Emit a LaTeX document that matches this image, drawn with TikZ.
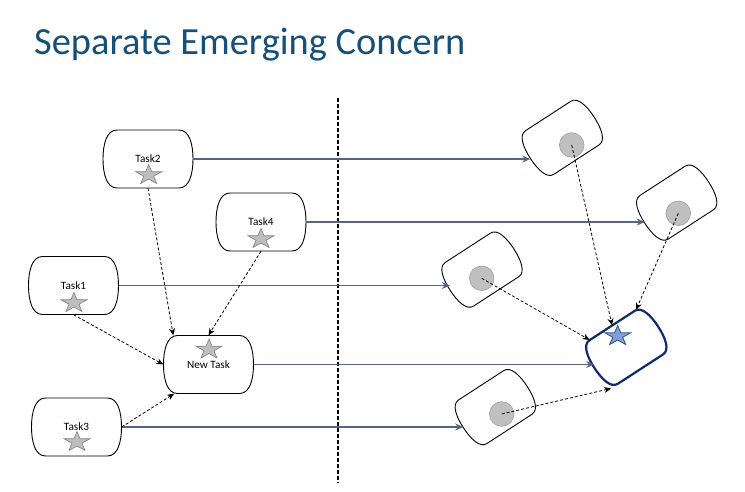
\documentclass[tikz,border=0pt]{standalone}
\usepackage{fontspec}
\newfontfamily\carl{Carlito}
\usetikzlibrary{shapes.geometric,arrows.meta,calc}
\definecolor{titleblue}{RGB}{22,80,122}
\definecolor{flowcol}{RGB}{84,100,130}
\definecolor{navy}{RGB}{14,44,110}
\definecolor{starblue}{RGB}{125,160,215}
\definecolor{starblueline}{RGB}{50,80,140}
\definecolor{dotgray}{RGB}{192,192,192}
\definecolor{dotline}{RGB}{160,160,160}
\definecolor{stargray}{RGB}{190,190,190}
\definecolor{stargrayline}{RGB}{128,128,128}
\tikzset{
  pics/term/.style n args={3}{code={
    \pgfmathsetmacro\tmW{#1/2}\pgfmathsetmacro\tmH{#2/2}%
    \pgfmathsetmacro\tmA{#1/2-#3}\pgfmathsetmacro\tmC{#1/2-0.25*#3}%
    \draw[pic actions] (-\tmA,-\tmH) -- (\tmA,-\tmH)
      .. controls (\tmC,-\tmH) and (\tmW,-0.5*\tmH) .. (\tmW,0)
      .. controls (\tmW,0.5*\tmH) and (\tmC,\tmH) .. (\tmA,\tmH)
      -- (-\tmA,\tmH)
      .. controls (-\tmC,\tmH) and (-\tmW,0.5*\tmH) .. (-\tmW,0)
      .. controls (-\tmW,-0.5*\tmH) and (-\tmC,-\tmH) .. cycle;
  }},
  taskbox/.style={minimum width=90pt, minimum height=58pt, inner sep=0pt, font=\carl\fontsize{11.2}{12}\selectfont},
  rnode/.style={minimum width=76pt, minimum height=52pt, inner sep=0pt, rotate=33},
  outl/.style={draw=black, line width=0.9pt},
  routl/.style={draw=black, line width=0.9pt, rotate=33},
  bigoutl/.style={draw=navy, line width=2.2pt, rotate=33},
  gstar/.style={star, star points=5, star point ratio=2.618, minimum size=21pt, inner sep=0pt, xscale=1.3, fill=stargray, draw=stargrayline, line width=0.6pt},
  bstar/.style={star, star points=5, star point ratio=2.618, minimum size=21pt, inner sep=0pt, xscale=1.3, fill=starblue, draw=starblueline, line width=0.8pt},
  dot/.style={circle, minimum size=24.6pt, inner sep=0pt, fill=dotgray, draw=dotline, line width=0.6pt},
  flow/.style={draw=flowcol, line width=1.4pt, -{Stealth[length=8pt,width=7pt]}},
  dep/.style={draw=black, line width=0.8pt, dash pattern=on 3pt off 2pt, -{Stealth[length=7pt,width=6pt]}},
}
\begin{document}
\begin{tikzpicture}[x=1pt,y=-1pt]
\fill[white] (0,0) rectangle (745,492);
\useasboundingbox (0,0) rectangle (745,492);

% title
\node[anchor=base west, inner sep=0pt, text=titleblue, font=\carl\fontsize{38.4}{40}\selectfont] (title) at (34,55) {Separate Emerging Concern};

% divider
\coordinate (dtop) at (338.3,97.7);
\coordinate (dbot) at (338.3,482.7);
\draw[black, line width=1.8pt, dash pattern=on 4pt off 2pt] (dtop) -- (dbot);

% left task boxes
\node[taskbox] (t2) at (148,159) {Task2};
\node[taskbox] (t4) at (261,222) {Task4};
\node[taskbox] (t1) at (73.5,285.5) {Task1};
\node[taskbox] (nt) at (208.5,364.5) {New Task};
\node[taskbox] (t3) at (76.5,427) {Task3};
\foreach \n in {t2,t4,t1,nt,t3} \pic[outl] at (\n) {term={90}{58}{14}};

% right shapes
\node[rnode] (rA) at (562.3,137.8) {};
\node[rnode] (rB) at (676.7,202.6) {};
\node[rnode] (rC) at (482,269.6) {};
\node[rnode] (rD) at (495.3,407.1) {};
\node[rnode] (rE) at (626.3,347.3) {};
\foreach \n in {rA,rB,rC,rD} \pic[routl] at (\n) {term={76}{52}{11}};
\pic[bigoutl] at (rE) {term={76}{52}{11}};

% solid flow arrows
\draw[flow] (t2.east) -- (t2.east -| rA.west);
\draw[flow] (t4.east) -- (t4.east -| rB.west);
\draw[flow] (t1.east) -- (t1.east -| rC.west);
\draw[flow] (nt.east) -- (nt.east -| rE.west);
\draw[flow] (t3.east) -- (t3.east -| rD.west);

% left dashed arrows
\draw[dep] (t2.south) -- ($(nt.north west)!0.11!(nt.north east)$);
\draw[dep] (t4.south) -- (nt.north);
\draw[dep] (t1.south) -- (nt.west);
\draw[dep] (t3.east) -- ($(nt.south west)!0.12!(nt.south east)$);

% stars
\node[gstar] (s2) at (148.7,175) {};
\node[gstar] (s4) at (261,239) {};
\node[gstar] (s1) at (74,303) {};
\node[gstar] (sn) at (209,349.5) {};
\node[gstar] (s3) at (77,442) {};
\node[bstar] (sE) at (617.7,336) {};

% grey dots
\node[dot] (cA) at (571.7,145) {};
\node[dot] (cB) at (678.3,213.3) {};
\node[dot] (cC) at (481.7,278.3) {};
\node[dot] (cD) at (501.7,414) {};

% right dashed arrows
\draw[dep] (cA.center) -- (rE.north);
\draw[dep] (cB.center) -- ($(rE.north)!0.75!(rE.north east)$);
\draw[dep] (cC.center) -- ($(rE.north west)!0.15!(rE.north east)$);
\draw[dep] (cD.center) -- ($(rE.south west)!0.04!(rE.south east)$);
\end{tikzpicture}
\end{document}
